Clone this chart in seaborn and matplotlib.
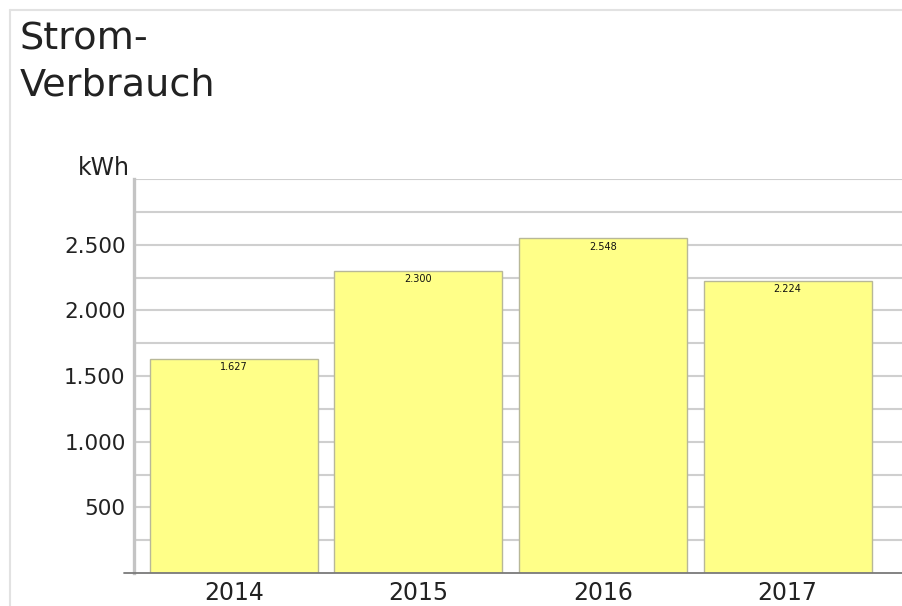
import matplotlib
matplotlib.use("Agg")
import matplotlib.pyplot as plt
from matplotlib.lines import Line2D
import seaborn as sns
import pandas as pd

years = ["2014", "2015", "2016", "2017"]
values = [1627, 2300, 2548, 2224]
value_labels = ["1.627", "2.300", "2.548", "2.224"]
ytick_values = [500, 1000, 1500, 2000, 2500]
ytick_labels = ["500", "1.000", "1.500", "2.000", "2.500"]

sns.set_theme(style="white")
plt.rcParams["font.family"] = ["DejaVu Sans"]

W, H = 902, 606
fig = plt.figure(figsize=(W / 100, H / 100), dpi=100)
fig.patch.set_facecolor("white")
ax = fig.add_axes([134 / W, (H - 573) / H, 1 - 134 / W, (573 - 179) / H])

df = pd.DataFrame({"year": years, "kwh": values})
sns.barplot(data=df, x="year", y="kwh", ax=ax, color="#ffff88", width=0.91,
            saturation=1, edgecolor="#b8b898", linewidth=1.0, zorder=3)

for i, (v, lab) in enumerate(zip(values, value_labels)):
    ax.text(i, v - 62, lab, ha="center", va="center", fontsize=7, color="#111111", zorder=4)

ax.set_ylim(0, 3000)
ax.set_xlim(-0.54, 3.62)
for gy in range(250, 3001, 250):
    ax.axhline(gy, color="#cfcfcf", lw=1.5, zorder=1)

ax.set_yticks(ytick_values)
ax.set_yticklabels(ytick_labels, fontsize=15.5, color="#222222")
ax.tick_params(axis="y", length=0, pad=6)
ax.tick_params(axis="x", length=0, pad=6, labelsize=17, labelcolor="#222222")
ax.set_xlabel("")
ax.set_ylabel("")

for s in ["top", "right"]:
    ax.spines[s].set_visible(False)
ax.spines["left"].set_color("#c4c4c4")
ax.spines["left"].set_linewidth(2.4)
ax.spines["bottom"].set_visible(False)
ax.axhline(0, xmin=-0.013, xmax=1, color="#7a7a7a", lw=1.3, clip_on=False, zorder=5)

fig.text(130 / W, 1 - 168 / H, "kWh", ha="right", va="center", fontsize=17, color="#222222")
fig.text(20 / W, 1 - 40 / H, "Strom-", ha="left", va="center", fontsize=27.5, color="#222222")
fig.text(20 / W, 1 - 85 / H, "Verbrauch", ha="left", va="center", fontsize=27.5, color="#222222")

fig.add_artist(Line2D([10 / W, 10 / W], [0, 1 - 10 / H], color="#e2e2e2", lw=1.5))
fig.add_artist(Line2D([10 / W, 1], [1 - 10 / H, 1 - 10 / H], color="#e2e2e2", lw=1.5))

fig.savefig("out.png", dpi=100)
